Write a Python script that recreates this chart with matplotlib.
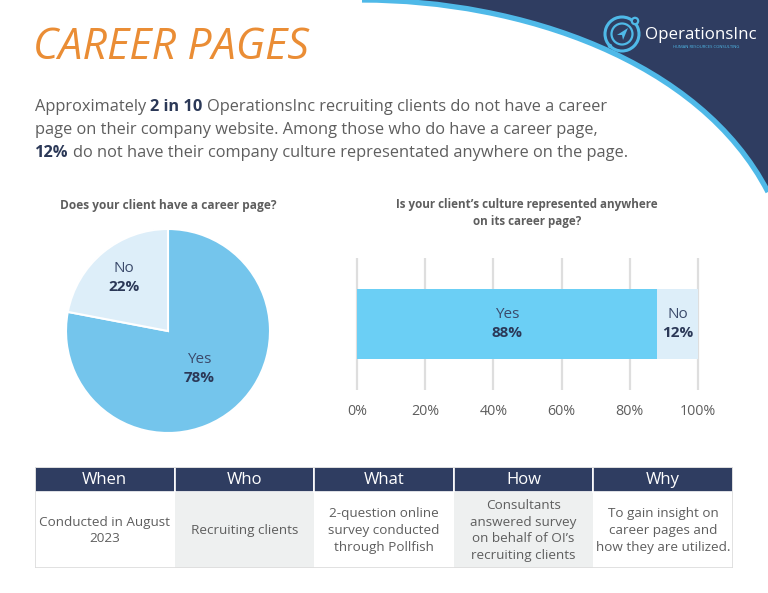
import matplotlib
matplotlib.use("Agg")
import matplotlib.pyplot as plt
from matplotlib.patches import Rectangle, Polygon, Circle, Arc, PathPatch
from matplotlib.path import Path
import numpy as np

plt.rcParams['font.family'] = ['Open Sans', 'DejaVu Sans']

# ---------------- data ----------------
title_text = "CAREER PAGES"
para_lines = [
    [("Approximately ", False), ("2 in 10", True), (" OperationsInc recruiting clients do not have a career", False)],
    [("page on their company website. Among those who do have a career page,", False)],
    [("12%", True), (" do not have their company culture representated anywhere on the page.", False)],
]
pie_title = "Does your client have a career page?"
pie_labels = ["Yes", "No"]
pie_values = [78, 22]
bar_title = "Is your client\u2019s culture represented anywhere\non its career page?"
bar_labels = ["Yes", "No"]
bar_values = [88, 12]
bar_ticks = [0, 20, 40, 60, 80, 100]
table_headers = ["When", "Who", "What", "How", "Why"]
table_cells = [
    "Conducted in August\n2023",
    "Recruiting clients",
    "2-question online\nsurvey conducted\nthrough Pollfish",
    "Consultants\nanswered survey\non behalf of OI\u2019s\nrecruiting clients",
    "To gain insight on\ncareer pages and\nhow they are utilized.",
]
brand = "OperationsInc"
brand_sub = "HUMAN RESOURCES CONSULTING"

# ---------------- style ----------------
NAVY = "#2f3d61"
LIGHTBLUE_EDGE = "#4fb9e8"
ORANGE = "#ea8d35"
GRAY = "#5e5e5e"
DARK = "#2b3857"
PIE_YES = "#74c5ec"
PIE_NO = "#ddeef9"
BAR_YES = "#6bcff5"
BAR_NO = "#ddeef9"
CELL_GRAY = "#eef0f0"

W, H = 768, 593
fig = plt.figure(figsize=(W / 100, H / 100), dpi=100)
fig.patch.set_facecolor("white")


def frac(x0, y0, x1, y1):
    return [x0 / W, 1 - y1 / H, (x1 - x0) / W, (y1 - y0) / H]


# background decoration axes (pixel coordinates)
bg = fig.add_axes([0, 0, 1, 1], zorder=0)
bg.set_xlim(0, W)
bg.set_ylim(H, 0)
bg.axis("off")

verts = [(362, 0), (520, 0), (700, 60), (768, 192), (768, 0), (362, 0)]
codes = [Path.MOVETO, Path.CURVE4, Path.CURVE4, Path.CURVE4, Path.LINETO, Path.CLOSEPOLY]
bg.add_patch(PathPatch(Path(verts, codes), facecolor=NAVY, edgecolor="none"))
edge = Path(verts[:4], codes[:4])
bg.add_patch(PathPatch(edge, facecolor="none", edgecolor=LIGHTBLUE_EDGE, lw=3.8))

# logo
cx, cy = 622, 34
bg.add_patch(Arc((cx, cy), 34, 34, theta1=0, theta2=360, color=LIGHTBLUE_EDGE, lw=2.2))
bg.add_patch(Circle((cx, cy), 10.5, facecolor="none", edgecolor=LIGHTBLUE_EDGE, lw=1.6))
bg.add_patch(Circle((cx + 13, cy - 13), 3.2, facecolor=NAVY, edgecolor=LIGHTBLUE_EDGE, lw=1.6))
bg.add_patch(Circle((cx - 12, cy + 12), 2.2, facecolor=LIGHTBLUE_EDGE, edgecolor="none"))
bg.add_patch(Polygon([(cx - 5, cy + 1), (cx + 6, cy - 6), (cx + 1, cy + 6), (cx, cy + 1)],
                     closed=True, facecolor=LIGHTBLUE_EDGE, edgecolor="none"))
bg.text(645, 35, brand, fontsize=12.2, color="white", va="center", ha="left")
bg.text(673, 47, brand_sub, fontsize=3.0, color=LIGHTBLUE_EDGE, va="center", ha="left")

# title
bg.text(33, 48, title_text, fontsize=31, color=ORANGE, va="center", ha="left",
        fontstyle="italic", fontweight="normal")

# paragraph with mixed weights
renderer = fig.canvas.get_renderer()


def measure(s, bold, size):
    t = bg.text(0, 0, s, fontsize=size, fontweight="bold" if bold else "normal")
    w = t.get_window_extent(renderer).width
    t.remove()
    return w


PSIZE = 11.75
space_w = {b: measure("x x", b, PSIZE) - measure("xx", b, PSIZE) for b in (False, True)}
line_y = [107, 130, 153]
for y, parts in zip(line_y, para_lines):
    x = 35
    for s, bold in parts:
        core = s.strip()
        if s.startswith(" "):
            x += space_w[bold]
        t = bg.text(x, y, core, fontsize=PSIZE, fontweight="bold" if bold else "normal",
                    color=DARK if bold else GRAY, va="center", ha="left")
        x += t.get_window_extent(renderer).width
        if s.endswith(" "):
            x += space_w[bold]

# ---------------- pie ----------------
pcx, pcy, pr = 168, 331, 102
axp = fig.add_axes(frac(pcx - pr, pcy - pr, pcx + pr, pcy + pr))
wedges, _ = axp.pie(pie_values, colors=[PIE_YES, PIE_NO], startangle=90, counterclock=False,
                    radius=1, wedgeprops=dict(edgecolor="white", linewidth=1.5))
axp.set_xlim(-1, 1)
axp.set_ylim(-1, 1)
axp.set_aspect("equal")
label_r = [0.48, 0.68]
for w, lab, val, r in zip(wedges, pie_labels, pie_values, label_r):
    ang = np.deg2rad((w.theta1 + w.theta2) / 2)
    x, y = r * np.cos(ang), r * np.sin(ang)
    axp.text(x, y + 0.088, lab, ha="center", va="center", fontsize=11, color="#3b4a6b")
    axp.text(x, y - 0.088, f"{val}%", ha="center", va="center", fontsize=11,
             fontweight="bold", color=DARK)
bg.text(pcx, 206, pie_title, fontsize=8.6, fontweight="bold", color=GRAY, ha="center", va="center")

# ---------------- bar ----------------
axb = fig.add_axes(frac(357, 258, 698, 390))
axb.set_xlim(0, 100)
axb.set_ylim(-0.5, 0.5)
axb.vlines(bar_ticks, -0.5, 0.5, colors="#dedede", lw=1.6, clip_on=False, zorder=0)
left = 0
for lab, val, col in zip(bar_labels, bar_values, [BAR_YES, BAR_NO]):
    axb.barh(0, val, left=left, height=0.53, color=col, zorder=2)
    xc = left + val / 2
    axb.text(xc, 0.07, lab, ha="center", va="center", fontsize=11, color="#3b4a6b", zorder=3)
    axb.text(xc, -0.07, f"{val}%", ha="center", va="center", fontsize=11,
             fontweight="bold", color=DARK, zorder=3)
    left += val
axb.set_xticks(bar_ticks, [f"{t}%" for t in bar_ticks])
axb.set_yticks([])
axb.tick_params(axis="x", length=0, pad=10, labelsize=10.3, labelcolor=GRAY)
for sp in axb.spines.values():
    sp.set_visible(False)
axb.patch.set_alpha(0)
bg.text(527, 213, bar_title, fontsize=8.4, fontweight="bold", color=GRAY, ha="center",
        va="center", linespacing=1.4, multialignment="center")

# ---------------- table ----------------
axt = fig.add_axes(frac(35, 467, 733, 568))
n = len(table_headers)
axt.set_xlim(0, n)
axt.set_ylim(101, 0)
axt.axis("off")
HDR = 25
for i, (hd, cell) in enumerate(zip(table_headers, table_cells)):
    axt.add_patch(Rectangle((i, 0), 1, HDR, facecolor=NAVY, edgecolor="white", lw=1.2))
    axt.add_patch(Rectangle((i, HDR), 1, 101 - HDR,
                            facecolor=CELL_GRAY if i % 2 == 1 else "white", edgecolor="none"))
    axt.text(i + 0.5, HDR / 2 + 0.5, hd, ha="center", va="center", fontsize=12, color="white")
    axt.text(i + 0.5, (HDR + 101) / 2 + 0.5, cell, ha="center", va="center", fontsize=9.7,
             color=GRAY, linespacing=1.36, multialignment="center")
axt.add_patch(Rectangle((0, 0), n, 101, facecolor="none", edgecolor="#dcdcdc", lw=1.2))

fig.savefig("out.png", dpi=100, facecolor="white")
